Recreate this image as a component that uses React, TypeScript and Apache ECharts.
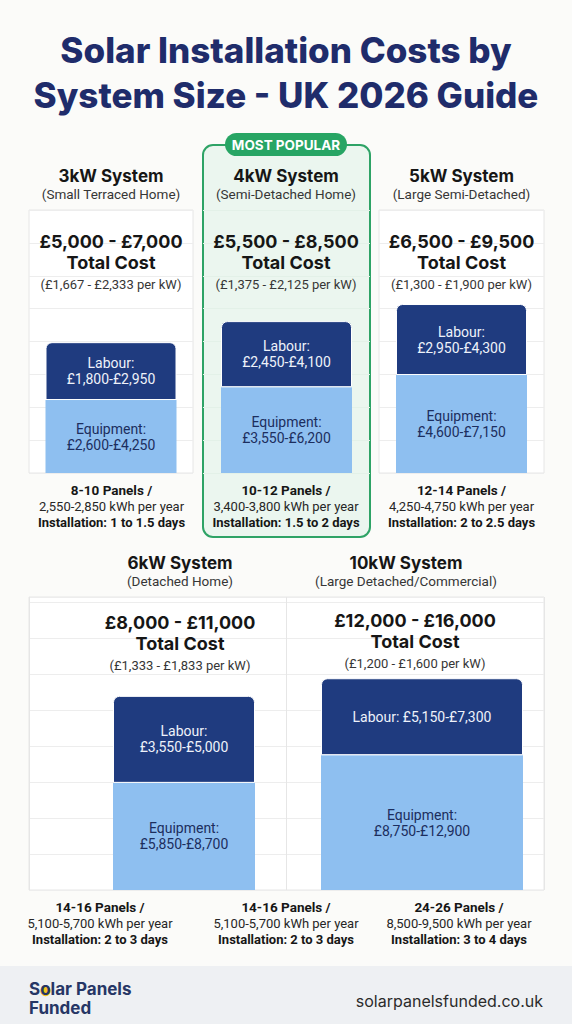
import React, { useEffect, useRef } from "react";
import * as echarts from "echarts";

const FONT = "Inter, 'Noto Sans', sans-serif";
const BODY_FONT = "Roboto, 'Noto Sans', sans-serif";
const NAVY = "#1f2c6b";
const LABOUR_COLOR = "#1f3b7f";
const EQUIP_COLOR = "#8ebff0";
const INK = "#161616";
const GREY = "#363636";

// ---- data ----
const systems = ["3kW System", "4kW System", "5kW System", "6kW System", "10kW System"];
const homeTypes = [
    "(Small Terraced Home)",
    "(Semi-Detached Home)",
    "(Large Semi-Detached)",
    "(Detached Home)",
    "(Large Detached/Commercial)",
];
const totalCosts = ["£5,000 - £7,000", "£5,500 - £8,500", "£6,500 - £9,500", "£8,000 - £11,000", "£12,000 - £16,000"];
const perKw = [
    "(£1,667 - £2,333 per kW)",
    "(£1,375 - £2,125 per kW)",
    "(£1,300 - £1,900 per kW)",
    "(£1,333 - £1,833 per kW)",
    "(£1,200 - £1,600 per kW)",
];
const labourRanges = ["£1,800-£2,950", "£2,450-£4,100", "£2,950-£4,300", "£3,550-£5,000", "£5,150-£7,300"];
const equipmentRanges = ["£2,600-£4,250", "£3,550-£6,200", "£4,600-£7,150", "£5,850-£8,700", "£8,750-£12,900"];
// bar heights as drawn (chart units, one grid line = 1000)
const equipmentBar = [2220, 2610, 2980, 2980, 3750];
const labourBar = [1760, 2010, 2160, 2420, 2140];

const footerPanels = ["8-10 Panels /", "10-12 Panels /", "12-14 Panels /", "14-16 Panels /", "14-16 Panels /", "24-26 Panels /"];
const footerKwh = [
    "2,550-2,850 kWh per year",
    "3,400-3,800 kWh per year",
    "4,250-4,750 kWh per year",
    "5,100-5,700 kWh per year",
    "5,100-5,700 kWh per year",
    "8,500-9,500 kWh per year",
];
const footerInstall = [
    "Installation: 1 to 1.5 days",
    "Installation: 1.5 to 2 days",
    "Installation: 2 to 2.5 days",
    "Installation: 2 to 3 days",
    "Installation: 2 to 3 days",
    "Installation: 3 to 4 days",
];

// ---- layout ----
const TOP = { top: 210, height: 263, max: 8000 };
const BOT = { top: 597, height: 293, max: 8150 };
const topPanels = [
    { left: 29, width: 164 },
    { left: 203, width: 167 },
    { left: 379, width: 165 },
];
const bottomBars = [
    { left: 113, width: 142 },
    { left: 321, width: 202 },
];
const barWidths = [131, 131, 131, 142, 202];
const seriesAxis = [0, 1, 2, 4, 5];
const headX = [111, 286, 461.5, 180, 406];
const headY = [176, 176, 176, 563, 563];
const priceX = [111, 286, 461.5, 180, 415];
const priceY = [241, 241, 241, 622, 620];
const footX = [111.5, 286, 461.5, 100, 286, 459];
const footY = [490, 490, 490, 907, 907, 907];

const hidden = {
    axisLine: { show: false },
    axisTick: { show: false },
    axisLabel: { show: false },
};

function txt(
    text: string,
    x: number,
    y: number,
    size: number,
    weight: string,
    color: string,
    family = FONT,
    align = "center"
) {
    return {
        type: "text",
        x,
        y,
        z: 10,
        silent: true,
        style: {
            text,
            fontSize: size,
            fontWeight: weight,
            fontFamily: family,
            fill: color,
            align,
            verticalAlign: "middle",
        },
    };
}

function buildOption() {
    const grid = [
        ...topPanels.map((p, i) => ({
            left: p.left,
            width: p.width,
            top: TOP.top,
            height: TOP.height,
            show: i !== 1,
            backgroundColor: "#ffffff",
            borderColor: "#e6e6e6",
            borderWidth: 1,
        })),
        {
            left: 29,
            width: 515,
            top: BOT.top,
            height: BOT.height,
            show: true,
            backgroundColor: "#ffffff",
            borderColor: "#e6e6e6",
            borderWidth: 1,
        },
        ...bottomBars.map((b) => ({ left: b.left, width: b.width, top: BOT.top, height: BOT.height })),
    ];

    const xAxis = [
        ...[0, 1, 2].map((i) => ({
            type: "category",
            gridIndex: i,
            data: [systems[i]],
            ...hidden,
            splitLine: { show: false },
        })),
        {
            type: "category",
            gridIndex: 3,
            data: [systems[3], systems[4]],
            ...hidden,
            splitLine: { show: true, lineStyle: { color: "#e6e6e6" } },
        },
        { type: "category", gridIndex: 4, data: [systems[3]], show: false },
        { type: "category", gridIndex: 5, data: [systems[4]], show: false },
    ];

    const yAxis = [
        ...[0, 1, 2].map((i) => ({
            type: "value",
            gridIndex: i,
            min: 0,
            max: TOP.max,
            interval: 1000,
            ...hidden,
            splitLine: { lineStyle: { color: i === 1 ? "#e3f1e8" : "#ededed" } },
        })),
        {
            type: "value",
            gridIndex: 3,
            min: 0,
            max: BOT.max,
            interval: 1000,
            ...hidden,
            splitLine: { lineStyle: { color: "#ededed" } },
        },
        { type: "value", gridIndex: 4, min: 0, max: BOT.max, show: false },
        { type: "value", gridIndex: 5, min: 0, max: BOT.max, show: false },
    ];

    const series = systems.flatMap((name, i) => {
        const ax = seriesAxis[i];
        const oneLine = barWidths[i] > 180;
        return [
            {
                name: `${name} Equipment`,
                type: "bar",
                xAxisIndex: ax,
                yAxisIndex: ax,
                stack: `s${i}`,
                data: [equipmentBar[i]],
                barWidth: barWidths[i],
                silent: true,
                itemStyle: { color: EQUIP_COLOR },
                label: {
                    show: true,
                    position: "inside",
                    formatter: `Equipment:\n${equipmentRanges[i]}`,
                    color: "#1c2e5e",
                    fontSize: 14,
                    lineHeight: 16,
                    fontFamily: BODY_FONT,
                },
            },
            {
                name: `${name} Labour`,
                type: "bar",
                xAxisIndex: ax,
                yAxisIndex: ax,
                stack: `s${i}`,
                data: [labourBar[i]],
                barWidth: barWidths[i],
                silent: true,
                itemStyle: {
                    color: LABOUR_COLOR,
                    borderRadius: [6, 6, 0, 0],
                    borderColor: "#ffffff",
                    borderWidth: 1,
                },
                label: {
                    show: true,
                    position: "inside",
                    formatter: oneLine ? `Labour: ${labourRanges[i]}` : `Labour:\n${labourRanges[i]}`,
                    color: "#eef2fa",
                    fontSize: 14,
                    lineHeight: 16,
                    fontFamily: BODY_FONT,
                },
            },
        ];
    });

    const texts: any[] = [
        txt("Solar Installation Costs by", 286, 50, 35, "800", NAVY),
        txt("System Size - UK 2026 Guide", 286, 95, 35, "800", NAVY),
    ];
    systems.forEach((s, i) => {
        texts.push(txt(s, headX[i], headY[i], 17, "bold", INK));
        texts.push(txt(homeTypes[i], headX[i], headY[i] + 18, 13.5, "normal", GREY, BODY_FONT));
        texts.push(txt(totalCosts[i], priceX[i], priceY[i], 18, "bold", INK));
        texts.push(txt("Total Cost", priceX[i], priceY[i] + 21, 18, "bold", INK));
        texts.push(txt(perKw[i], priceX[i], priceY[i] + 43, 13, "normal", GREY, BODY_FONT));
    });
    footerPanels.forEach((p, i) => {
        texts.push(txt(p, footX[i], footY[i], 13.5, "bold", INK, BODY_FONT));
        texts.push(txt(footerKwh[i], footX[i], footY[i] + 16, 13, "normal", "#262626", BODY_FONT));
        texts.push(txt(footerInstall[i], footX[i], footY[i] + 32, 13, "bold", INK, BODY_FONT));
    });

    const graphic = [
        {
            type: "rect",
            shape: { x: 203, y: 145, width: 167, height: 392, r: 10 },
            style: { fill: "#ebf6ef", stroke: "#2ea366", lineWidth: 2 },
            silent: true,
        },
        {
            type: "rect",
            z: 5,
            shape: { x: 225, y: 133, width: 122, height: 23, r: 11.5 },
            style: { fill: "#27a564" },
            silent: true,
        },
        txt("MOST POPULAR", 286, 144.5, 13.5, "bold", "#ffffff"),
        {
            type: "rect",
            shape: { x: 0, y: 966, width: 572, height: 58 },
            style: { fill: "#eef0f3" },
            silent: true,
        },
        {
            type: "circle",
            z: 9,
            shape: { cx: 45.5, cy: 991, r: 5.2 },
            style: { fill: "#f5c31c" },
            silent: true,
        },
        {
            type: "text",
            x: 29,
            y: 989,
            z: 10,
            silent: true,
            style: {
                text: "{a|S}{o|o}{a|lar Panels}",
                fontFamily: FONT,
                fontSize: 17,
                fontWeight: "bold",
                fill: "#263665",
                verticalAlign: "middle",
                rich: {
                    a: { fontFamily: FONT, fontSize: 17, fontWeight: "bold", color: "#263665" },
                    o: { fontFamily: FONT, fontSize: 17, fontWeight: "bold", color: "#f5c31c" },
                },
            },
        },
        txt("Funded", 29, 1008, 17, "bold", "#263665", FONT, "left"),
        txt("solarpanelsfunded.co.uk", 543, 1001, 16, "normal", "#2b2b2b", FONT, "right"),
        ...texts,
    ];

    return {
        animation: false,
        backgroundColor: "#fbfbf9",
        textStyle: { fontFamily: FONT },
        grid,
        xAxis,
        yAxis,
        series,
        graphic,
    };
}

export default function App() {
    const ref = useRef<HTMLDivElement | null>(null);

    useEffect(() => {
        if (!ref.current) return;
        const chart = echarts.init(ref.current, undefined, { renderer: "svg" });
        chart.setOption(buildOption() as any);
        return () => chart.dispose();
    }, []);

    return <div ref={ref} style={{ position: "fixed", left: 0, top: 0, width: 572, height: 1024 }} />;
}
